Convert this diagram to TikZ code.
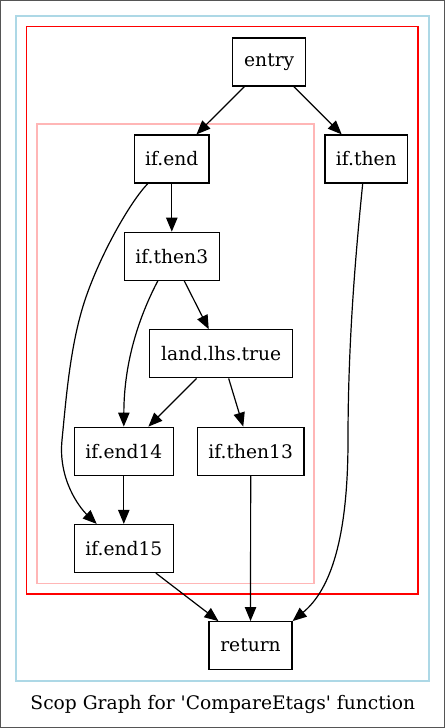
\documentclass[tikz,border=0pt]{standalone}
\usepackage{fontspec}
\setmainfont{DejaVu Serif}
\usetikzlibrary{arrows.meta}
\definecolor{clblue}{HTML}{ADD8E6}
\definecolor{clpink}{HTML}{FFB6B6}
\definecolor{frame}{HTML}{555555}
\begin{document}
\begin{tikzpicture}[x=0.75pt,y=-0.75pt,
  blk/.style={draw=black,line width=0.9pt,inner sep=0pt,minimum height=36pt,font=\fontsize{14pt}{16pt}\selectfont},
  edge/.style={draw=black,line width=0.9pt,-{Triangle[length=10.5pt,width=8.5pt]}},
  cluster/.style={line width=0.9pt}]
\useasboundingbox (0,0) rectangle (445,728);
\draw[frame,line width=0.75pt] (0.5,0.5) rectangle (444.5,727.5);
% clusters
\draw[cluster,clblue] (16,16) rectangle (429,681);
\draw[cluster,red] (26.7,26.7) rectangle (418,594);
\draw[cluster,clpink] (37,124) rectangle (314,583.3);
% nodes
\node[blk,minimum width=54.75pt] (entry) at (269.2,61.9) {entry};
\node[blk,minimum width=55.7pt] (ifend) at (171.8,159) {if.end};
\node[blk,minimum width=62pt] (ifthen) at (366.3,159) {if.then};
\node[blk,minimum width=71.25pt] (ifthen3) at (171.8,256.3) {if.then3};
\node[blk,minimum width=107.25pt] (land) at (221.2,353.8) {land.lhs.true};
\node[blk,minimum width=74.25pt] (ifend14) at (123.8,451.2) {if.end14};
\node[blk,minimum width=80pt] (ifthen13) at (250.7,451.2) {if.then13};
\node[blk,minimum width=74.25pt] (ifend15) at (123.8,548.5) {if.end15};
\node[blk,minimum width=62.25pt] (return) at (250.5,645.7) {return};
\node[font=\fontsize{14pt}{16pt}\selectfont] (title) at (222.8,704) {Scop Graph for \textquotesingle CompareEtags\textquotesingle\ function};
% edges
\draw[edge] (entry) -- (ifend);
\draw[edge] (entry) -- (ifthen);
\draw[edge] (ifend) -- (ifthen3);
\draw[edge] ([xshift=-18pt]ifend.south) .. controls (130,202) and (100,255) .. (85,300)
  .. controls (70,345) and (66,400) .. (62,440)
  .. controls (58,480) and (80,508) .. ([xshift=-20.3pt]ifend15.north);
\draw[edge] ([xshift=-2.7pt]ifthen.south) .. controls (356,250) and (348,340) .. (348,440)
  .. controls (348,540) and (330,590) .. (return.north east);
\draw[edge] ([xshift=-10.5pt]ifthen3.south) .. controls (140,315) and (124,360) .. (ifend14.north);
\draw[edge] (ifthen3) -- (land);
\draw[edge] (land) -- (ifend14);
\draw[edge] (land) -- (ifthen13);
\draw[edge] (ifend14) -- (ifend15);
\draw[edge] (ifthen13) -- (return);
\draw[edge] (ifend15) -- (return);
\end{tikzpicture}
\end{document}
